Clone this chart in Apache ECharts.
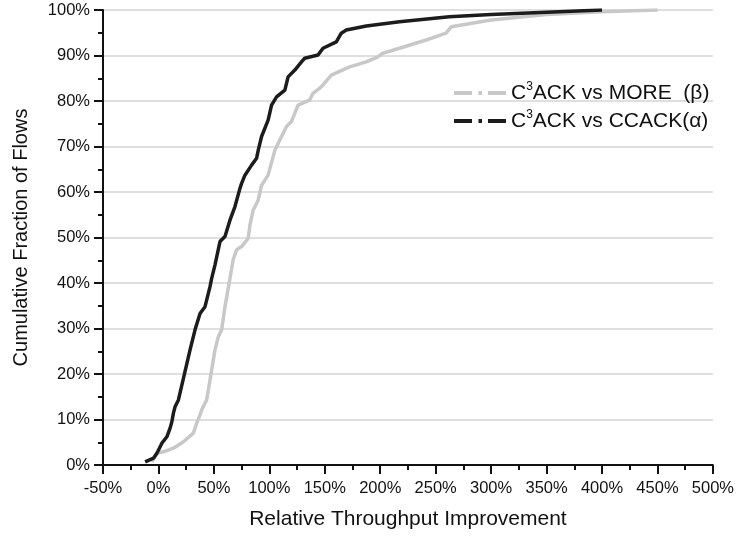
<!DOCTYPE html>
<html>
<head>
<meta charset="utf-8">
<script src="https://cdn.jsdelivr.net/npm/echarts@6/dist/echarts.min.js"></script>
<style>
html,body{margin:0;padding:0;background:#fff;}
#chart{width:737px;height:538px;}
</style>
</head>
<body>
<div id="chart"></div>
<script>
// x-axis ticks (%), y-axis ticks (%)
const xTicks = [-50, 0, 50, 100, 150, 200, 250, 300, 350, 400, 450, 500];
const yTicks = [0, 10, 20, 30, 40, 50, 60, 70, 80, 90, 100];

const seriesNames = ['C3ACK vs MORE  (β)', 'C3ACK vs CCACK(α)'];

// C3ACK vs MORE (beta): relative throughput improvement (%) and cumulative fraction (%)
const moreX = [-5.9, -1.4, 4.5, 13.5, 22.5, 31.5, 34.5, 37.5, 39.0, 42.0, 43.5, 51.0, 54.0, 57.0, 60.0, 64.5, 67.4, 70.5, 75.0, 80.9, 82.5, 85.4, 89.9, 93.0, 96.0, 98.9, 105.0, 111.0, 115.5, 120.0, 125.9, 136.4, 139.4, 146.9, 155.9, 172.4, 187.4, 197.8, 202.3, 217.4, 241.4, 259.4, 264.0, 300.0, 350.0, 400.0, 450.0];
const moreY = [0.7, 2.6, 2.9, 3.7, 5.1, 7.0, 9.2, 11.0, 12.1, 13.6, 14.3, 25.3, 28.2, 29.7, 34.8, 41.0, 45.1, 47.3, 48.0, 49.8, 52.7, 56.0, 58.2, 61.5, 62.6, 63.7, 69.2, 72.2, 74.4, 75.5, 79.1, 80.2, 81.7, 83.1, 85.7, 87.5, 88.6, 89.7, 90.5, 91.6, 93.4, 94.9, 96.3, 97.8, 99.0, 99.6, 100.0];

// C3ACK vs CCACK (alpha)
const ccackX = [-12.0, -4.5, -1.4, 3.1, 7.6, 10.5, 12.1, 13.5, 15.0, 18.0, 28.5, 33.0, 37.5, 42.0, 46.5, 48.0, 51.0, 55.5, 60.0, 64.5, 69.0, 73.5, 75.0, 78.0, 84.0, 88.5, 90.0, 93.0, 98.9, 102.0, 106.5, 114.0, 116.9, 123.0, 129.0, 131.9, 143.9, 148.4, 160.4, 164.9, 169.4, 187.4, 217.4, 262.3, 300.0, 350.0, 400.0];
const ccackY = [0.7, 1.5, 2.6, 4.8, 6.2, 8.1, 9.5, 11.4, 12.8, 14.3, 25.3, 29.7, 33.3, 34.8, 39.2, 41.0, 44.0, 49.1, 50.2, 53.8, 56.8, 60.8, 61.9, 63.7, 65.9, 67.4, 69.2, 72.2, 75.8, 79.1, 80.9, 82.4, 85.3, 86.8, 88.6, 89.4, 90.1, 91.6, 93.0, 94.9, 95.6, 96.5, 97.4, 98.5, 99.0, 99.5, 100.0];

const pair = (xs, ys) => xs.map((x, i) => [x, ys[i]]);

const iconPath = 'path://M0,0H18V4H0Z M24.5,0H28V4H24.5Z M34,0H52V4H34Z';
const FONT = 'Liberation Sans, Arial, sans-serif';
const TXT = '#111111';

const chart = echarts.init(document.getElementById('chart'), null, {renderer: 'canvas'});
chart.setOption({
  animation: false,
  backgroundColor: '#ffffff',
  grid: {left: 103, right: 22, top: 10, bottom: 73, containLabel: false},
  legend: {
    orient: 'vertical',
    left: 449,
    top: 76,
    itemWidth: 52,
    itemHeight: 4,
    itemGap: 5.5,
    data: [
      {name: seriesNames[0], icon: iconPath},
      {name: seriesNames[1], icon: iconPath}
    ],
    formatter: function (name) {
      const rest = name.slice(2);
      return '{n|C}{s|3}{n|' + rest + '}';
    },
    textStyle: {
      fontFamily: FONT,
      color: TXT,
      rich: {
        n: {fontSize: 21, lineHeight: 24, fontFamily: FONT, color: TXT},
        s: {fontSize: 12, lineHeight: 24, fontFamily: FONT, color: TXT, verticalAlign: 'top', padding: [0, 0, 10, 0]}
      }
    }
  },
  xAxis: {
    type: 'value',
    min: xTicks[0],
    max: xTicks[xTicks.length - 1],
    interval: 50,
    name: 'Relative Throughput Improvement',
    nameLocation: 'middle',
    nameGap: 44,
    nameTextStyle: {fontFamily: FONT, fontSize: 21, color: TXT},
    axisLine: {show: true, onZero: false, lineStyle: {color: '#111', width: 2}},
    axisTick: {show: true, inside: false, length: 9, lineStyle: {color: '#111', width: 2}},
    minorTick: {show: true, splitNumber: 2, length: 5, lineStyle: {color: '#111', width: 2}},
    axisLabel: {formatter: '{value}%', fontFamily: FONT, fontSize: 16.5, color: TXT, margin: 15},
    splitLine: {show: false}
  },
  yAxis: {
    type: 'value',
    min: yTicks[0],
    max: yTicks[yTicks.length - 1],
    interval: 10,
    name: 'Cumulative Fraction of Flows',
    nameLocation: 'middle',
    nameGap: 72,
    nameTextStyle: {fontFamily: FONT, fontSize: 20, color: TXT},
    axisLine: {show: true, onZero: false, lineStyle: {color: '#111', width: 2}},
    axisTick: {show: true, inside: false, length: 9, lineStyle: {color: '#111', width: 2}},
    minorTick: {show: true, splitNumber: 2, length: 5, lineStyle: {color: '#111', width: 2}},
    axisLabel: {formatter: '{value}%', fontFamily: FONT, fontSize: 16.5, color: TXT, margin: 13},
    splitLine: {show: true, lineStyle: {color: '#d4d4d4', width: 1.5}}
  },
  series: [
    {
      name: seriesNames[0],
      type: 'line',
      data: pair(moreX, moreY),
      showSymbol: false,
      symbol: 'none',
      smooth: false,
      color: '#c8c8c8',
      lineStyle: {color: '#c8c8c8', width: 3.5}
    },
    {
      name: seriesNames[1],
      type: 'line',
      data: pair(ccackX, ccackY),
      showSymbol: false,
      symbol: 'none',
      smooth: false,
      color: '#1c1c1c',
      lineStyle: {color: '#1c1c1c', width: 3.5}
    }
  ]
});
</script>
</body>
</html>
